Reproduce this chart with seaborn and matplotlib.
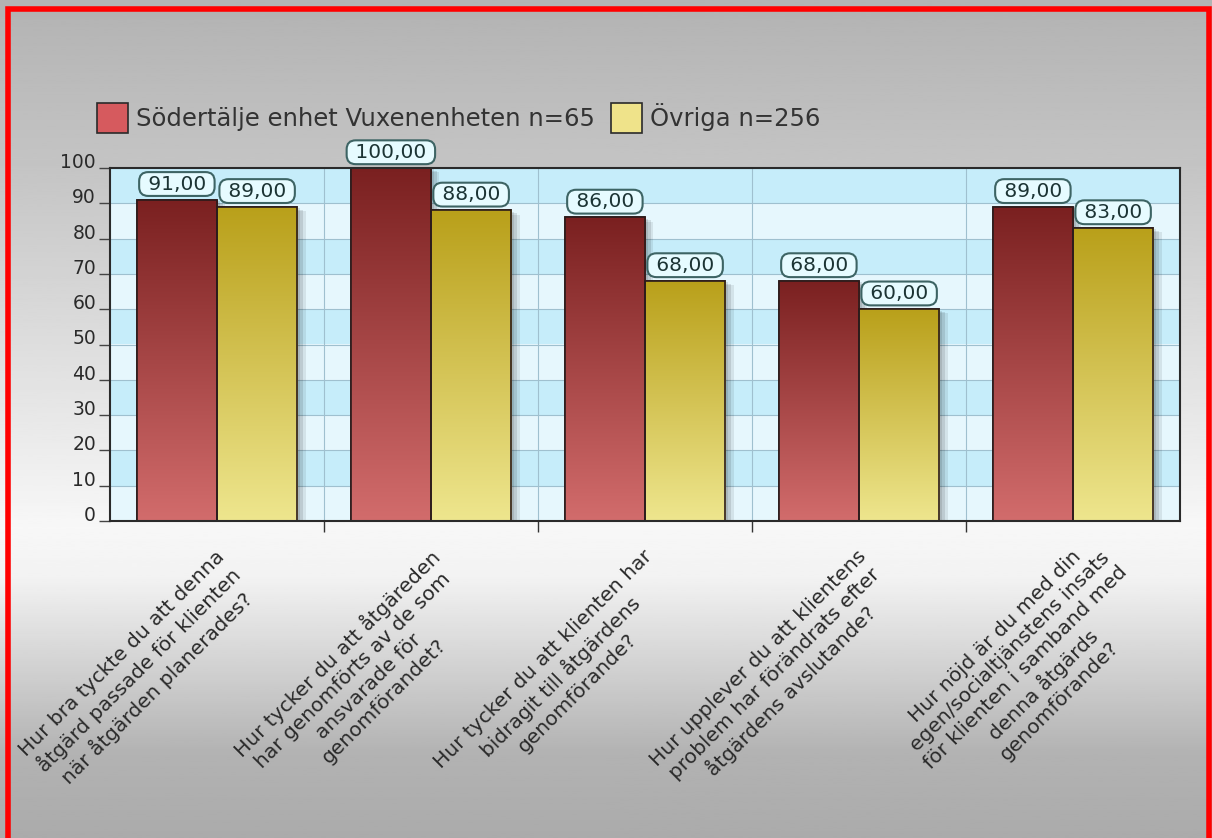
import matplotlib
matplotlib.use("Agg")
import matplotlib.pyplot as plt
import numpy as np
import pandas as pd
import seaborn as sns
from matplotlib import patheffects as pe
from matplotlib.colors import LinearSegmentedColormap
from matplotlib.font_manager import FontProperties
from matplotlib.patches import Patch, Rectangle
from matplotlib.transforms import ScaledTranslation

questions = [
    "Hur bra tyckte du att denna\nåtgärd passade för klienten\nnär åtgärden planerades?",
    "Hur tycker du att åtgäreden\nhar genomförts av de som\nansvarade för\ngenomförandet?",
    "Hur tycker du att klienten har\nbidragit till åtgärdens\ngenomförande?",
    "Hur upplever du att klientens\nproblem har förändrats efter\nåtgärdens avslutande?",
    "Hur nöjd är du med din\negen/socialtjänstens insats\nför klienten i samband med\ndenna åtgärds\ngenomförande?",
]
groups = ["Södertälje enhet Vuxenenheten n=65", "Övriga n=256"]
sodertalje = [91, 100, 86, 68, 89]
ovriga = [89, 88, 68, 60, 83]
y_ticks = list(range(0, 101, 10))


def main() -> None:
    df = pd.DataFrame({
        "fraga": questions * 2,
        "grupp": [groups[0]] * len(questions) + [groups[1]] * len(questions),
        "varde": sodertalje + ovriga,
    })

    W, H = 1212, 838
    fig = plt.figure(figsize=(W / 100, H / 100), dpi=100)

    # grey page gradient behind everything
    bg = fig.add_axes([0, 0, 1, 1], zorder=-10)
    yy = np.linspace(0, 1, 400)
    shade = np.interp(yy, [0, 0.2, 0.63, 0.69, 0.9, 1.0],
                      [0.70, 0.77, 0.97, 0.95, 0.70, 0.67])
    bg.imshow(shade.reshape(-1, 1), cmap="gray", vmin=0, vmax=1,
              aspect="auto", extent=(0, 1, 0, 1), origin="upper")
    bg.set_axis_off()

    ax = fig.add_axes([110 / W, 1 - 521 / H, 1070 / W, 353 / H])

    # striped plot background
    for i, lo in enumerate(y_ticks[:-1]):
        ax.axhspan(lo, lo + 10, color="#c6edfa" if i % 2 else "#e6f7fd",
                   lw=0, zorder=0.1)

    palette = {groups[0]: "#b04848", groups[1]: "#d8c850"}
    sns.barplot(data=df, x="fraga", y="varde", hue="grupp", palette=palette,
                width=0.75, saturation=1, edgecolor="#2b1b1b", linewidth=1.2,
                legend=False, ax=ax)

    grads = [("#d26c6c", "#7a2020"), ("#eee68e", "#b9a01a")]
    for cont, (bot_c, top_c) in zip(ax.containers, grads):
        cmap = LinearSegmentedColormap.from_list("g", [bot_c, top_c])
        for bar in cont:
            x0, w, h = bar.get_x(), bar.get_width(), bar.get_height()
            bar.set_path_effects([
                pe.SimplePatchShadow(offset=(2, -1), shadow_rgbFace="k", alpha=0.10),
                pe.SimplePatchShadow(offset=(4, -2), shadow_rgbFace="k", alpha=0.10),
                pe.SimplePatchShadow(offset=(6, -3), shadow_rgbFace="k", alpha=0.08),
                pe.Normal(),
            ])
            img = ax.imshow(np.linspace(0, 1, 256).reshape(-1, 1), cmap=cmap,
                            aspect="auto", extent=(x0, x0 + w, 0, h),
                            origin="lower", zorder=bar.get_zorder() + 0.1)
            img.set_clip_path(bar)
            ax.add_patch(Rectangle((x0, 0), w, h, fill=False, ec="#2b1b1b",
                                   lw=1.2, zorder=bar.get_zorder() + 0.2))
            label = " " + f"{h:.2f}".replace(".", ",") + " "
            ax.annotate(label, xy=(x0 + w / 2, h),
                        xytext=(0, 4.5), textcoords="offset points",
                        ha="center", va="bottom", fontsize=14.5, color="#1c3434",
                        zorder=6, annotation_clip=False,
                        bbox=dict(boxstyle="round,pad=0.12,rounding_size=0.45",
                                  fc="#e6fbff", ec="#3d6464", lw=1.5))

    ax.set_xlim(-0.5, len(questions) - 0.5)
    ax.set_ylim(0, 100)
    ax.set_xlabel("")
    ax.set_ylabel("")

    # grid: horizontal every 10, vertical at group boundaries
    ax.set_axisbelow(True)
    ax.set_xticks([i + 0.5 for i in range(len(questions) - 1)], minor=True)
    ax.grid(True, which="major", axis="y", color="#9fc0cf", lw=0.8)
    ax.grid(True, which="minor", axis="x", color="#9fc0cf", lw=0.8)

    ax.set_yticks(y_ticks)
    ax.tick_params(axis="y", length=8, width=1, color="#444444", pad=2,
                   labelsize=13.5, labelcolor="#2a2a2a")
    for lbl in ax.get_yticklabels():
        lbl.set_va("baseline")

    label_size = 14.5
    ax.set_xticks(range(len(questions)))
    ax.set_xticklabels(questions, rotation=45, ha="right", va="top",
                       rotation_mode="anchor", multialignment="center",
                       fontsize=label_size, color="#2a2a2a")
    ax.tick_params(axis="x", which="major", length=0, pad=18.5)
    ax.tick_params(axis="x", which="minor", length=8, width=1, color="#333333")

    # the first line of every label ends at the same spot under its group
    renderer = fig.canvas.get_renderer()
    fp = FontProperties(size=label_size)
    for lbl, q in zip(ax.get_xticklabels(), questions):
        widths = [renderer.get_text_width_height_descent(s, fp, ismath=False)[0]
                  for s in q.split("\n")]
        d = (max(widths) - widths[0]) / 2 * 0.7071
        shift = ScaledTranslation((d - 2) / 100, d / 100, fig.dpi_scale_trans)
        lbl.set_transform(lbl.get_transform() + shift)

    for sp in ax.spines.values():
        sp.set_color("#2a2a2a")
        sp.set_linewidth(1.5)
        sp.set_zorder(7)

    fig.legend(handles=[Patch(fc="#d65a5e", ec="#2a2a2a", lw=1.2),
                        Patch(fc="#efe38a", ec="#2a2a2a", lw=1.2)],
               labels=groups, loc="center left",
               bbox_to_anchor=(97 / W, 1 - 118 / H), ncol=2, frameon=False,
               fontsize=17.5, handlelength=1.28, handleheight=1.52,
               handletextpad=0.33, columnspacing=0.66, borderpad=0,
               borderaxespad=0, labelcolor="#333333")

    # red frame of the original screenshot
    fig.add_artist(Rectangle((8 / W, -0.1), (1209 - 8) / W, 1.1 - 9 / H,
                             transform=fig.transFigure, fill=False,
                             ec="#ff0000", lw=4, zorder=20))

    fig.savefig("out.png", dpi=100)


if __name__ == "__main__":
    main()
